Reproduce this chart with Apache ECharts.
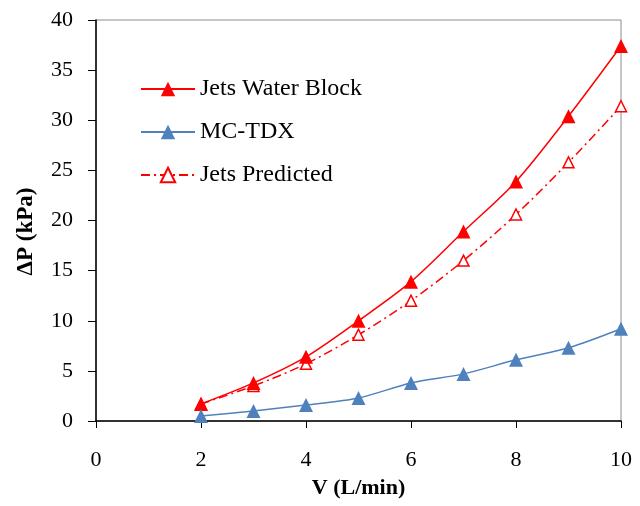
<!DOCTYPE html>
<html>
<head>
    <meta charset="utf-8">
    <script src="https://cdn.jsdelivr.net/npm/echarts@6/dist/echarts.min.js"></script>
</head>
<body style="margin:0">
    <div id="main" style="width: 640px;height:506px;"></div>

<script type="text/javascript">
    // flow rate V (L/min)
    var flowRate = [2, 3, 4, 5, 6, 7, 8, 9, 10];
    // pressure drop (kPa)
    var jetsWaterBlock = [1.7, 3.8, 6.4, 10.0, 13.9, 18.9, 23.9, 30.4, 37.4];
    var mcTdx = [0.5, 1.0, 1.6, 2.3, 3.8, 4.7, 6.1, 7.3, 9.2];
    var jetsPredicted = [1.7, 3.5, 5.7, 8.6, 12.0, 16.0, 20.6, 25.8, 31.4];

    var pairs = function (ys) {
        var res = [];
        for (var i = 0; i < flowRate.length; i++) {
            res.push([flowRate[i], ys[i]]);
        }
        return res;
    };

    var myChart = echarts.init(document.getElementById('main'));
    var font = 'Liberation Serif';

    var option = {
        backgroundColor: '#fff',
        animation: false,
        grid: {
            left: 96, right: 19, top: 20, bottom: 85,
            show: true,
            borderColor: '#8c8c8c',
            borderWidth: 1
        },
        legend: {
            orient: 'vertical',
            left: 135,
            top: 72,
            itemGap: 19,
            itemWidth: 54,
            itemHeight: 18,
            textStyle: { fontFamily: font, fontSize: 24, color: '#000' },
            data: ['Jets Water Block', 'MC-TDX', 'Jets Predicted']
        },
        xAxis: {
            type: 'value',
            min: 0, max: 10, interval: 2,
            name: 'V (L/min)',
            nameLocation: 'middle',
            nameGap: 56,
            nameTextStyle: { fontFamily: font, fontSize: 22, fontWeight: 'bold', color: '#000' },
            axisLine: { onZero: false, lineStyle: { color: '#000', width: 1.5 } },
            axisTick: { show: true, length: 7, inside: false, lineStyle: { color: '#000' } },
            axisLabel: { fontFamily: font, fontSize: 22, color: '#000', margin: 28 },
            splitLine: { show: false }
        },
        yAxis: {
            type: 'value',
            min: 0, max: 40, interval: 5,
            name: 'ΔP (kPa)',
            nameLocation: 'middle',
            nameGap: 58,
            nameTextStyle: { fontFamily: font, fontSize: 23, fontWeight: 'bold', color: '#000', padding: [0, 22, 0, 0] },
            axisLine: { show: true, lineStyle: { color: '#000', width: 1.5 } },
            axisTick: { show: true, length: 8, lineStyle: { color: '#000' } },
            axisLabel: { fontFamily: font, fontSize: 22, color: '#000', margin: 23 },
            splitLine: { show: false }
        },
        series: [
            {
                name: 'Jets Water Block',
                type: 'line',
                smooth: 0.3,
                data: pairs(jetsWaterBlock),
                symbol: 'triangle',
                symbolSize: 14,
                lineStyle: { color: '#ff0000', width: 1.5 },
                itemStyle: { color: '#ff0000' },
                z: 3
            },
            {
                name: 'MC-TDX',
                type: 'line',
                smooth: 0.3,
                data: pairs(mcTdx),
                symbol: 'triangle',
                symbolSize: 14,
                lineStyle: { color: '#4f81bd', width: 1.5 },
                itemStyle: { color: '#4f81bd' },
                z: 3
            },
            {
                name: 'Jets Predicted',
                type: 'line',
                smooth: 0.3,
                data: pairs(jetsPredicted),
                symbol: 'triangle',
                symbolSize: 11,
                showAllSymbol: true,
                lineStyle: { color: '#ff0000', width: 1.5, type: [9, 4, 2, 4] },
                itemStyle: { color: '#fff', borderColor: '#ff0000', borderWidth: 1.5 },
                z: 2
            }
        ]
    };

    myChart.setOption(option);
</script>
</body>
</html>
